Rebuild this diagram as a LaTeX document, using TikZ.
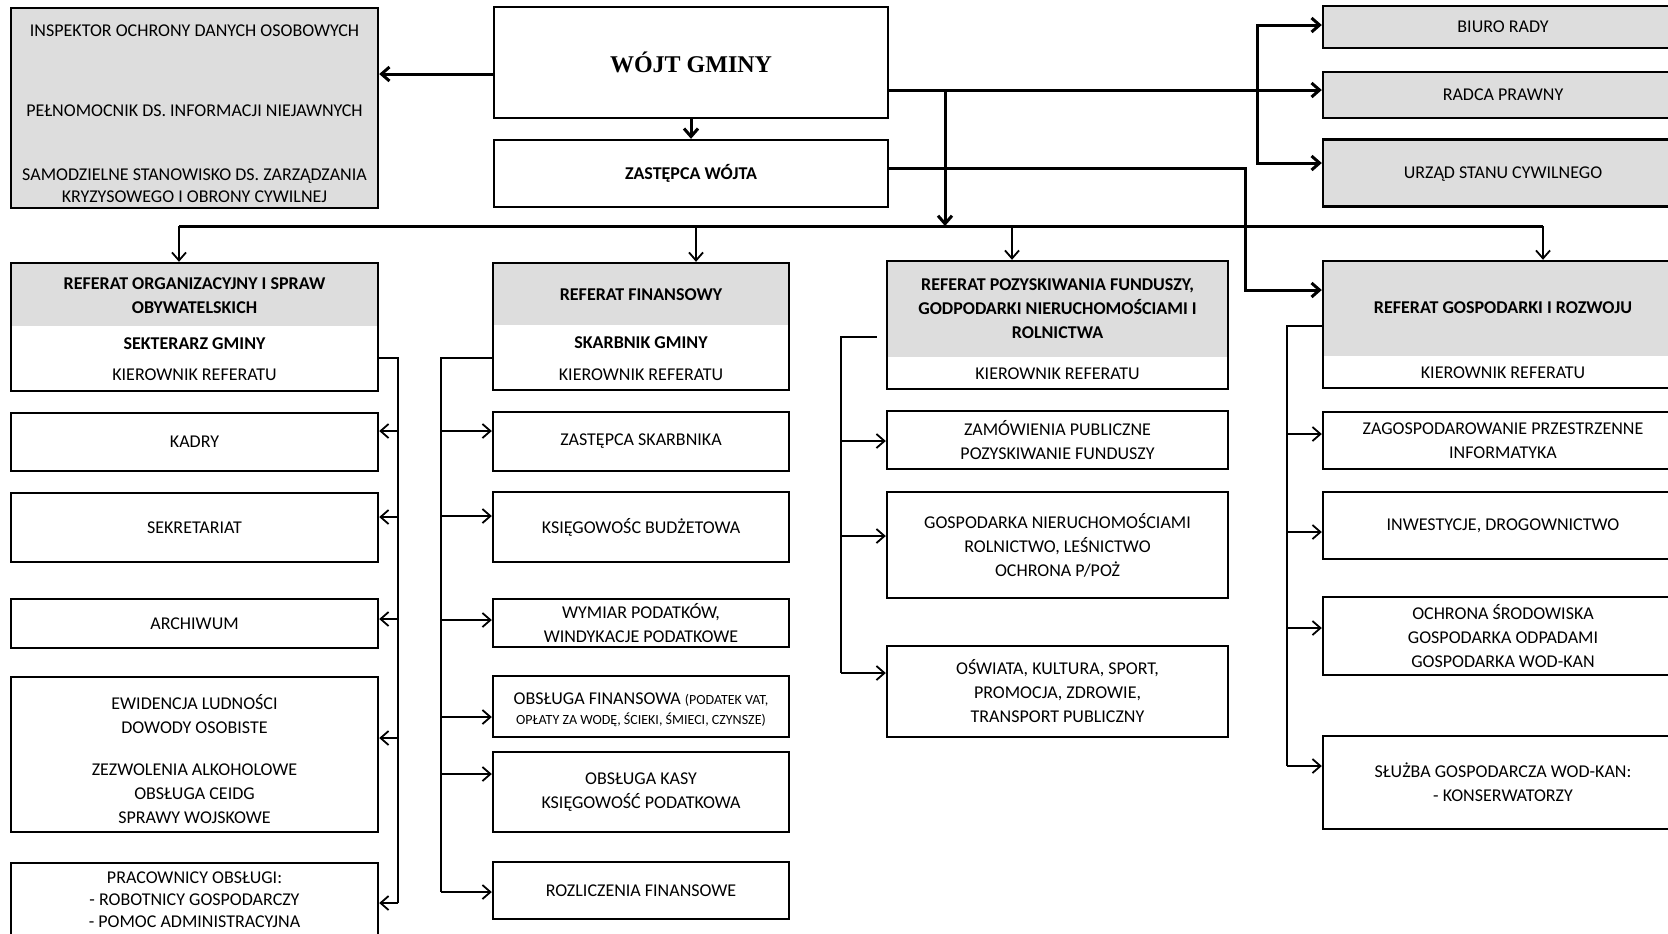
\documentclass[tikz,border=0pt]{standalone}
\usepackage{fontspec}
\setmainfont{Carlito}
\newfontfamily\wojtfont{Liberation Serif}
\usetikzlibrary{arrows.meta,backgrounds}
\definecolor{boxgray}{RGB}{221,221,221}

\begin{document}
\begin{tikzpicture}[x=0.5pt,y=-0.5pt,
>={Straight Barb[length=4pt,width=7pt]},
box/.style={
% frame and text
draw=black,
line width=1.2pt,
align=center,
inner sep=2pt,
font=\fontsize{9}{12}\selectfont
},
col1/.style={box,minimum width=183.5pt},
col2/.style={box,minimum width=148pt},
col3/.style={box,minimum width=170.5pt},
col4/.style={box,minimum width=180pt},
hdrtext/.style={align=center,font=\fontsize{9}{12}\selectfont\bfseries},
plaintext/.style={align=center,font=\fontsize{9}{12}\selectfont},
thickline/.style={line width=1.5pt},
thinline/.style={line width=0.9pt}
]
\useasboundingbox (0,0) rectangle (1668,933);

% top row
\node[col1,fill=boxgray,minimum height=100pt] (insp) at (194.5,108) {};
\node[plaintext] (inspT) at (194.5,114) {INSPEKTOR OCHRONY DANYCH OSOBOWYCH\\[28pt]PEŁNOMOCNIK DS. INFORMACJI NIEJAWNYCH\\[20pt]SAMODZIELNE STANOWISKO DS. ZARZĄDZANIA\\[-1pt]KRYZYSOWEGO I OBRONY CYWILNEJ};
\node[box,minimum width=197pt,minimum height=55.5pt] (wojt) at (691,62.5) {\wojtfont\bfseries\fontsize{12}{14}\selectfont WÓJT GMINY};
\node[box,minimum width=197pt,minimum height=33.5pt] (zast) at (691,173.5) {\textbf{ZASTĘPCA WÓJTA}};
\node[col4,fill=boxgray,minimum height=21pt] (biuro) at (1503,27) {BIURO RADY};
\node[col4,fill=boxgray,minimum height=23pt] (radca) at (1503,95) {RADCA PRAWNY};
\node[col4,fill=boxgray,minimum height=33.5pt,text height=5.8pt,text depth=0pt] (usc) at (1503,173) {URZĄD STANU CYWILNEGO};

% headers of the departments
\node[col1,minimum height=64pt] (org) at (194.5,327) {};
\node[col2,minimum height=63.5pt] (fin) at (641,326.5) {};
\node[col3,minimum height=64pt] (poz) at (1057.5,325) {};
\node[col4,minimum height=63.5pt] (roz) at (1503,324.5) {};
\begin{scope}[on background layer]
\fill[boxgray] (org.north west) rectangle (org.east |- 0,326);
\fill[boxgray] (fin.north west) rectangle (fin.east |- 0,325);
\fill[boxgray] (poz.north west) rectangle (poz.east |- 0,357);
\fill[boxgray] (roz.north west) rectangle (roz.east |- 0,356);
\end{scope}
\node[hdrtext] (orgT) at (194.5,296) {REFERAT ORGANIZACYJNY I SPRAW\\OBYWATELSKICH};
\node[hdrtext] (orgS) at (194.5,344) {SEKTERARZ GMINY};
\node[plaintext] (orgK) at (194.5,375) {KIEROWNIK REFERATU};
\node[hdrtext] (finT) at (641,295) {REFERAT FINANSOWY};
\node[hdrtext] (finS) at (641,343) {SKARBNIK GMINY};
\node[plaintext] (finK) at (641,375) {KIEROWNIK REFERATU};
\node[hdrtext] (pozT) at (1057.5,309) {REFERAT POZYSKIWANIA FUNDUSZY,\\GODPODARKI NIERUCHOMOŚCIAMI I\\ROLNICTWA};
\node[plaintext] (pozK) at (1057.5,374) {KIEROWNIK REFERATU};
\node[hdrtext] (rozT) at (1503,308) {REFERAT GOSPODARKI I ROZWOJU};
\node[plaintext] (rozK) at (1503,373) {KIEROWNIK REFERATU};

% first column
\node[col1,minimum height=29pt] (kadry) at (194.5,442) {KADRY};
\node[col1,minimum height=34.5pt] (sekr) at (194.5,527.5) {SEKRETARIAT};
\node[col1,minimum height=24.5pt] (arch) at (194.5,623.5) {ARCHIWUM};
\node[col1,minimum height=77.5pt] (ewid) at (194.5,754.5) {};
\node[plaintext] (ewidT) at (194.5,759) {EWIDENCJA LUDNOŚCI\\DOWODY OSOBISTE\\[9pt]ZEZWOLENIA ALKOHOLOWE\\OBSŁUGA CEIDG\\SPRAWY WOJSKOWE};
\node[col1,minimum height=41pt] (prac) at (194.5,904) {};
\node[plaintext] (pracT) at (194.5,900) {PRACOWNICY OBSŁUGI:\\[-1pt]- ROBOTNICY GOSPODARCZY\\[-1pt]- POMOC ADMINISTRACYJNA};

% second column
\node[col2,minimum height=29.5pt] (zsk) at (641,441.5) {ZASTĘPCA SKARBNIKA};
\node[col2,minimum height=35pt] (ksieg) at (641,527) {KSIĘGOWOŚC BUDŻETOWA};
\node[col2,minimum height=24pt] (wym) at (641,623) {WYMIAR PODATKÓW,\\WINDYKACJE PODATKOWE};
\node[col2,minimum height=30.5pt] (obsfin) at (641,706.5) {};
\node[plaintext] (obsfinT) at (641,710) {OBSŁUGA FINANSOWA {\fontsize{7}{9}\selectfont(PODATEK VAT,}\\[-2pt]{\fontsize{7}{9}\selectfont OPŁATY ZA WODĘ, ŚCIEKI, ŚMIECI, CZYNSZE)}};
\node[col2,minimum height=40pt] (kasa) at (641,792) {OBSŁUGA KASY\\KSIĘGOWOŚĆ PODATKOWA};
\node[col2,minimum height=28.5pt] (rozl) at (641,890.5) {ROZLICZENIA FINANSOWE};

% third column
\node[col3,minimum height=29pt] (zam) at (1057.5,440) {ZAMÓWIENIA PUBLICZNE\\POZYSKIWANIE FUNDUSZY};
\node[col3,minimum height=53pt] (gosp) at (1057.5,545) {GOSPODARKA NIERUCHOMOŚCIAMI\\ROLNICTWO, LEŚNICTWO\\OCHRONA P/POŻ};
\node[col3,minimum height=45.5pt] (osw) at (1057.5,691.5) {OŚWIATA, KULTURA, SPORT,\\PROMOCJA, ZDROWIE,\\TRANSPORT PUBLICZNY};

% fourth column
\node[col4,minimum height=28.5pt] (zag) at (1503,440.5) {ZAGOSPODAROWANIE PRZESTRZENNE\\INFORMATYKA};
\node[col4,minimum height=33.5pt] (inw) at (1503,525.5) {INWESTYCJE, DROGOWNICTWO};
\node[col4,minimum height=39pt] (och) at (1503,636) {OCHRONA ŚRODOWISKA\\GOSPODARKA ODPADAMI\\GOSPODARKA WOD-KAN};
\node[col4,minimum height=46.5pt] (slu) at (1503,782.5) {SŁUŻBA GOSPODARCZA WOD-KAN:\\- KONSERWATORZY};

% connectors at the top
\coordinate (drop) at (945,90);
\coordinate (rsp) at (1257,90);
\coordinate (zk) at (1245,290);
\draw[thickline,->] (wojt.west |- 0,74) -- (insp.east |- 0,74);
\draw[thickline,->] (wojt.south) -- (zast.north);
\draw[thickline,->] (wojt.east |- drop) -- (radca.west |- drop);
\draw[thickline,->] (rsp) |- (biuro.west |- 0,25);
\draw[thickline,->] (rsp) |- (usc.west |- 0,163);
\draw[thickline,->] (drop) -- (945,226);
\draw[thickline] (179,226) -- (1543,226);
\foreach \n/\x in {org/179,fin/696,poz/1012,roz/1543}
\draw[thinline,->] (\x,226) -- (\n.north -| \x,0);
\draw[thickline,->] (zast.east |- 0,168) -| (zk) -- (roz.west |- zk);

% connectors inside the departments
\coordinate (sp1) at (398,358);
\draw[thinline] (org.east |- sp1) -- (sp1) -- (sp1 |- 0,903);
\foreach \n/\y in {kadry/431,sekr/517,arch/619,ewid/738,prac/903}
\draw[thinline,->] (sp1 |- 0,\y) -- (\n.east |- 0,\y);
\coordinate (sp2) at (441,358);
\draw[thinline] (fin.west |- sp2) -- (sp2) -- (sp2 |- 0,892);
\foreach \n/\y in {zsk/431,ksieg/516,wym/620,obsfin/717,kasa/774,rozl/892}
\draw[thinline,->] (sp2 |- 0,\y) -- (\n.west |- 0,\y);
\coordinate (sp3) at (841,337);
\draw[thinline,shorten <=4.5pt] (poz.west |- sp3) -- (sp3) -- (sp3 |- 0,673);
\foreach \n/\y in {zam/441,gosp/536,osw/673}
\draw[thinline,->] (sp3 |- 0,\y) -- (\n.west |- 0,\y);
\coordinate (sp4) at (1287,326);
\draw[thinline] (roz.west |- sp4) -- (sp4) -- (sp4 |- 0,766);
\foreach \n/\y in {zag/434,inw/532,och/628,slu/766}
\draw[thinline,->] (sp4 |- 0,\y) -- (\n.west |- 0,\y);
\end{tikzpicture}
\end{document}
